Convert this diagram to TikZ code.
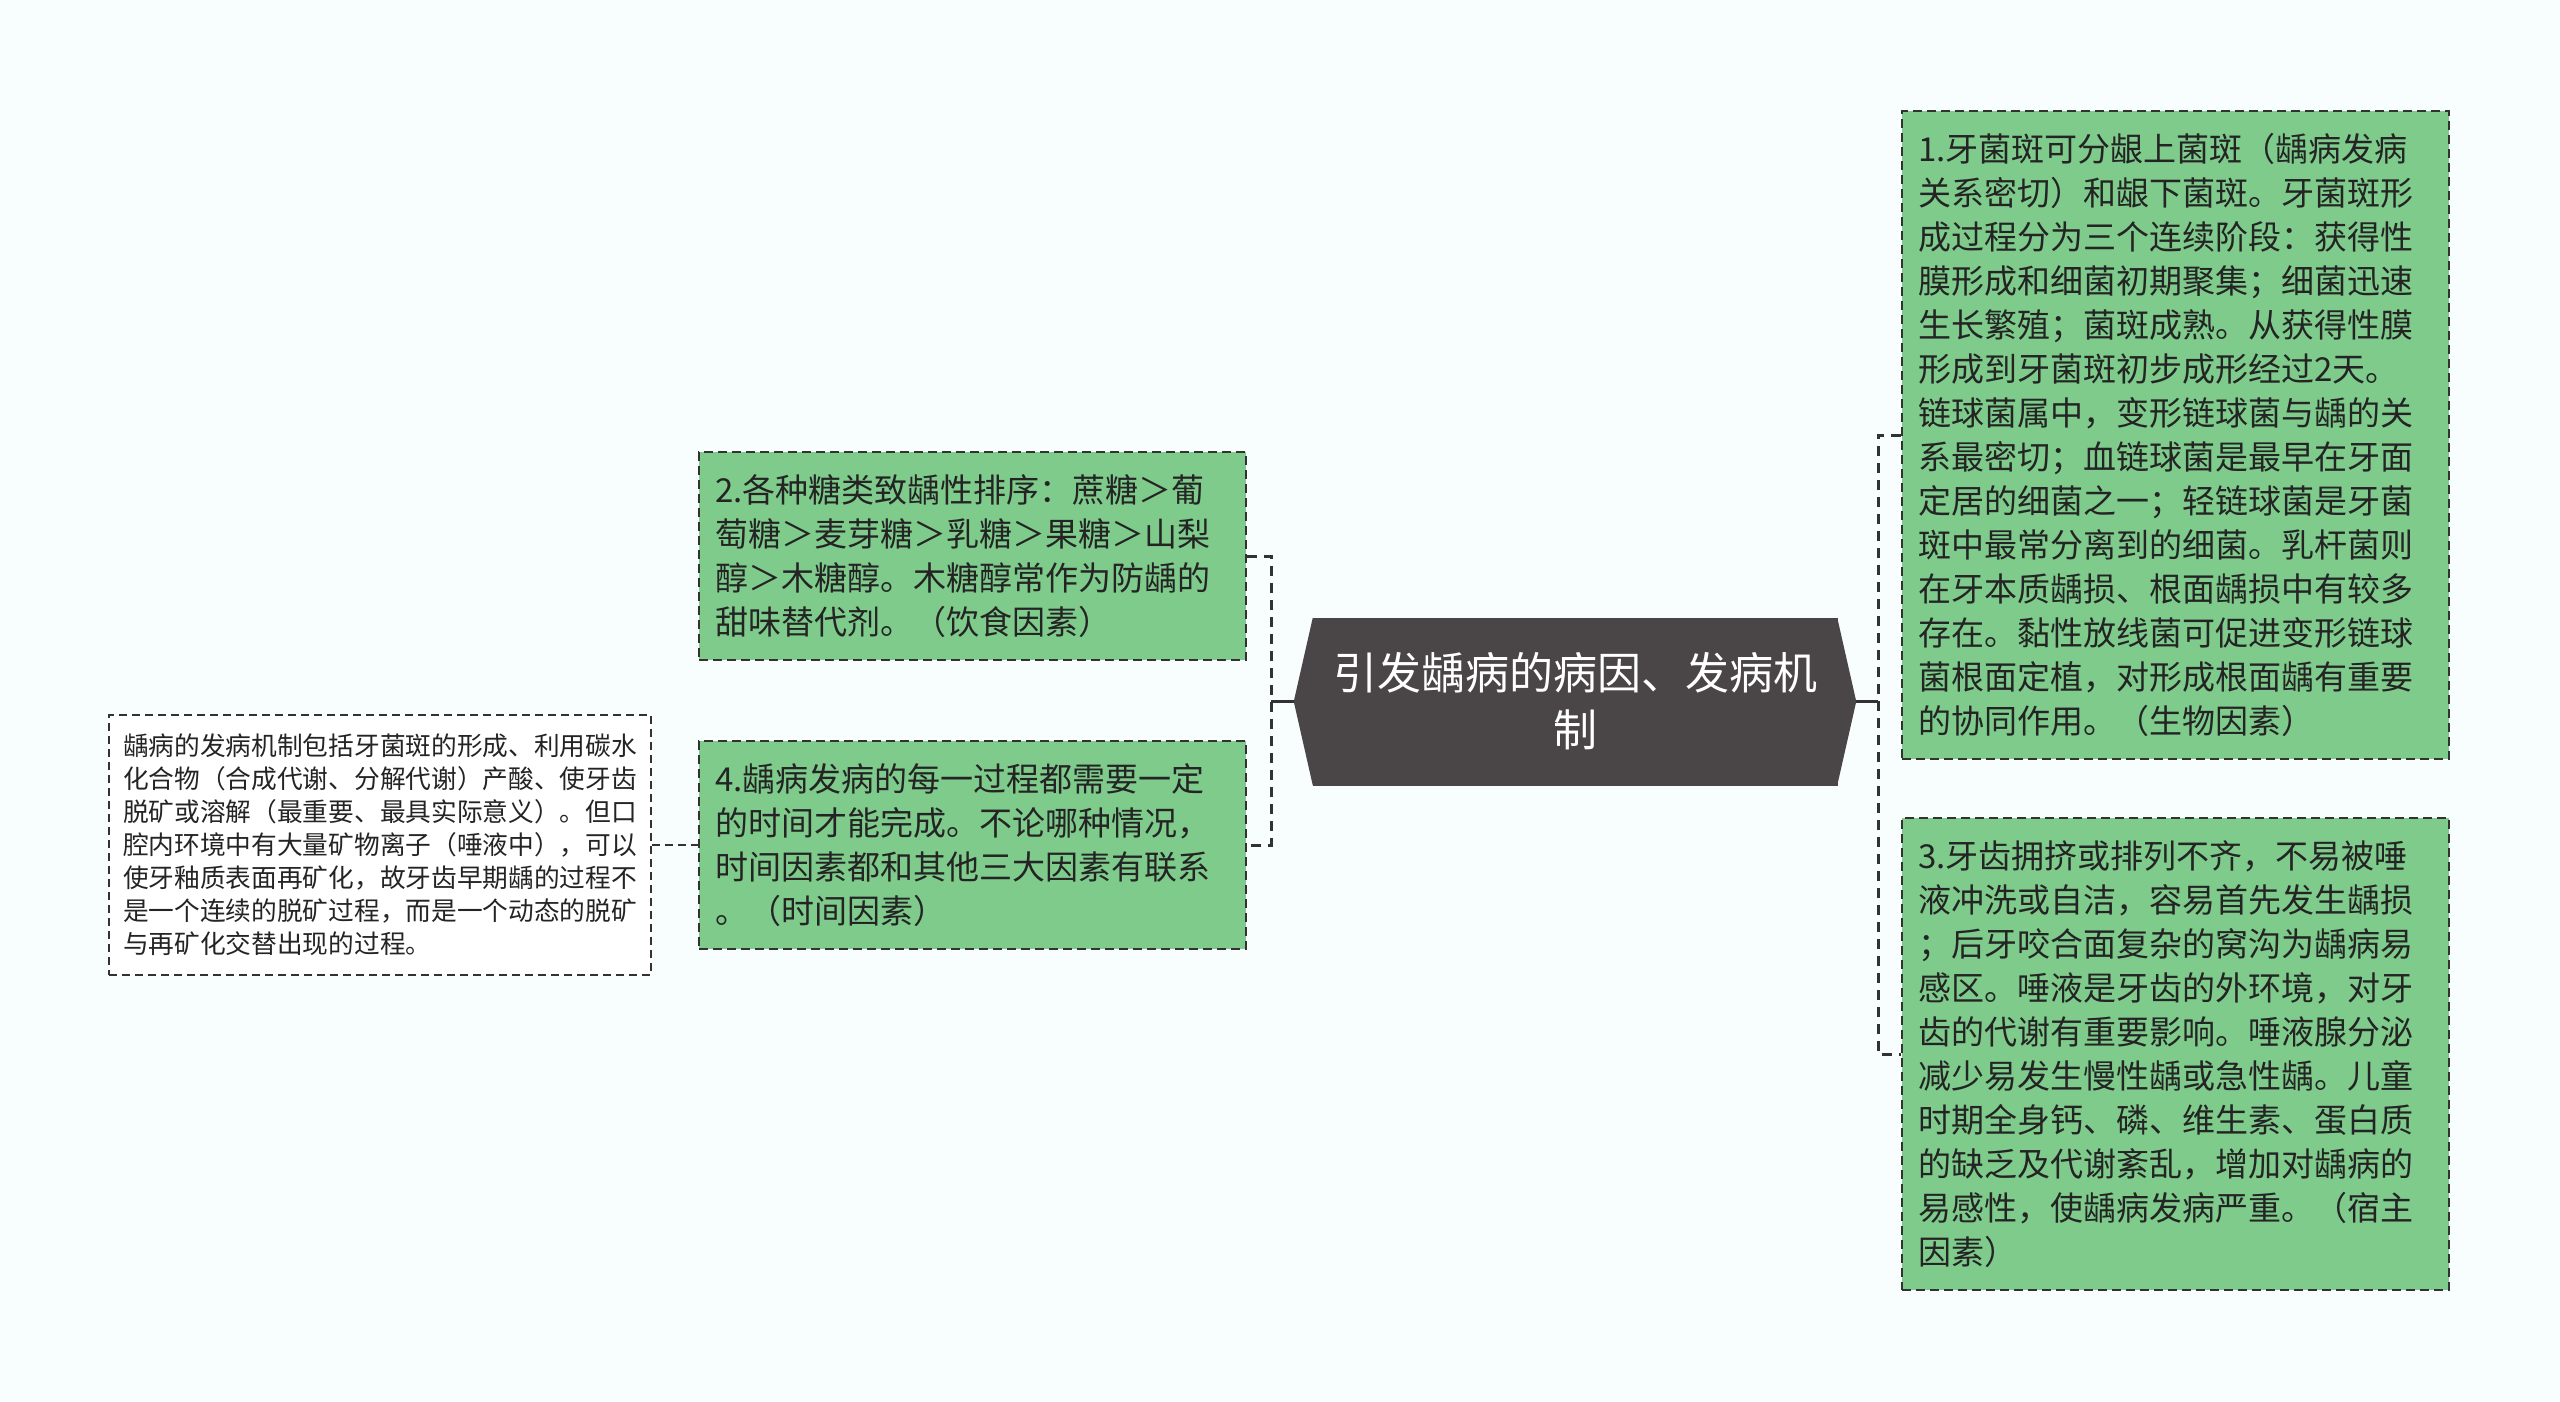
\documentclass[tikz,border=0pt]{standalone}
\usepackage{fontspec}
\setmainfont{Noto Sans CJK SC}
\definecolor{bg}{RGB}{248,253,254}
\definecolor{gfill}{RGB}{126,203,140}
\definecolor{cdark}{RGB}{74,69,70}
\definecolor{tdark}{RGB}{36,36,36}
\definecolor{edgec}{RGB}{50,50,50}
\begin{document}
\begin{tikzpicture}[x=1pt,y=-1pt,
  gbox/.style={draw=edgec, fill=gfill, line width=2.2pt, dash pattern=on 9pt off 5pt,
    text=tdark, align=left, inner xsep=16pt, inner ysep=0pt, text width=515pt,
    minimum width=547pt, font=\fontsize{33}{44}\selectfont},
  wbox/.style={draw=edgec, fill=white, line width=1.8pt, dash pattern=on 8pt off 5pt,
    text=tdark, align=left, inner xsep=14pt, inner ysep=0pt, text width=514pt,
    minimum width=542pt, minimum height=260pt, font=\fontsize{25.7}{33}\selectfont},
  cbox/.style={fill=cdark, draw=cdark, line width=0.5pt, text=white, align=center,
    minimum width=524pt, minimum height=167pt, inner sep=0pt,
    font=\fontsize{44}{57}\selectfont},
  sconn/.style={draw=edgec, line width=3pt},
  dconn/.style={draw=edgec, line width=3pt, dash pattern=on 10pt off 7pt},
  dconnthin/.style={draw=edgec, line width=1.8pt, dash pattern=on 8pt off 5pt}]
\fill[bg] (0,0) rectangle (2560,1401);
\useasboundingbox (0,0) rectangle (2560,1401);

% centre node
\node[cbox] (c) at (1575,701.5) {引发龋病的病因、发病机\\制};
\fill[cdark] (c.north west) -- ([xshift=-19pt]c.west) -- (c.south west) -- cycle;
\fill[cdark] (c.north east) -- ([xshift=19pt]c.east) -- (c.south east) -- cycle;
\coordinate (cL) at ([xshift=-19pt]c.west);
\coordinate (cR) at ([xshift=19pt]c.east);
\coordinate (lbr) at (1271,701.5);
\coordinate (rbr) at (1878,701.5);

% right boxes
\node[gbox, minimum height=648pt] (b1) at (2175.5,435) {1.牙菌斑可分龈上菌斑（龋病发病\\关系密切）和龈下菌斑。牙菌斑形\\成过程分为三个连续阶段：获得性\\膜形成和细菌初期聚集；细菌迅速\\生长繁殖；菌斑成熟。从获得性膜\\形成到牙菌斑初步成形经过2天。\\链球菌属中，变形链球菌与龋的关\\系最密切；血链球菌是最早在牙面\\定居的细菌之一；轻链球菌是牙菌\\斑中最常分离到的细菌。乳杆菌则\\在牙本质龋损、根面龋损中有较多\\存在。黏性放线菌可促进变形链球\\菌根面定植，对形成根面龋有重要\\的协同作用。（生物因素）};
\node[gbox, minimum height=472pt] (b3) at (2175.5,1054) {3.牙齿拥挤或排列不齐，不易被唾\\液冲洗或自洁，容易首先发生龋损\\；后牙咬合面复杂的窝沟为龋病易\\感区。唾液是牙齿的外环境，对牙\\齿的代谢有重要影响。唾液腺分泌\\减少易发生慢性龋或急性龋。儿童\\时期全身钙、磷、维生素、蛋白质\\的缺乏及代谢紊乱，增加对龋病的\\易感性，使龋病发病严重。（宿主\\因素）};

% left boxes
\node[gbox, minimum height=208pt] (b2) at (972.5,556) {2.各种糖类致龋性排序：蔗糖＞葡\\萄糖＞麦芽糖＞乳糖＞果糖＞山梨\\醇＞木糖醇。木糖醇常作为防龋的\\甜味替代剂。（饮食因素）};
\node[gbox, minimum height=208pt] (b4) at (972.5,845) {4.龋病发病的每一过程都需要一定\\的时间才能完成。不论哪种情况，\\时间因素都和其他三大因素有联系\\。（时间因素）};

% small note
\node[wbox] (s) at (380,845) {龋病的发病机制包括牙菌斑的形成、利用碳水\\化合物（合成代谢、分解代谢）产酸、使牙齿\\脱矿或溶解（最重要、最具实际意义）。但口\\腔内环境中有大量矿物离子（唾液中），可以\\使牙釉质表面再矿化，故牙齿早期龋的过程不\\是一个连续的脱矿过程，而是一个动态的脱矿\\与再矿化交替出现的过程。};

% connectors
\draw[sconn] (cL) -- (lbr);
\draw[sconn] (cR) -- (rbr);
\draw[dconn] (b2.east) -| (lbr) |- (b4.east);
\draw[dconn] (b1.west) -| (rbr) |- (b3.west);
\draw[dconnthin] (s.east) -- (b4.west);
\end{tikzpicture}
\end{document}
